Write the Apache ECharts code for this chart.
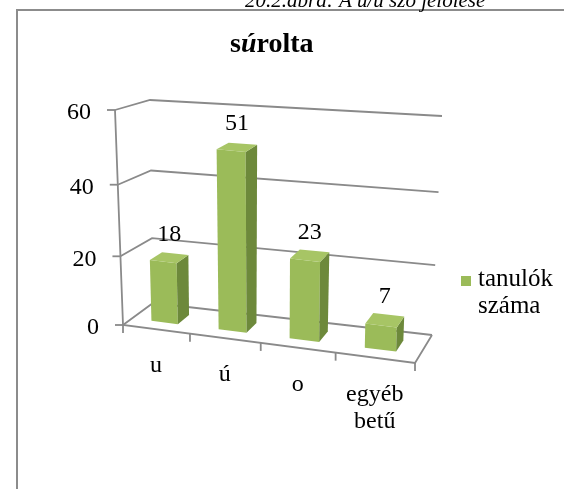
<!DOCTYPE html>
<html>
<head>
<meta charset="utf-8">
<script src="https://cdn.jsdelivr.net/npm/echarts@6.0.0/dist/echarts.min.js"></script>
<style>
  html, body { margin: 0; padding: 0; background: #fff; }
  #chart { width: 564px; height: 489px; }
</style>
</head>
<body>
<div id="chart"></div>
<script>
var categories = ['u', 'ú', 'o', 'egyéb\nbetű'];
var values = [18, 51, 23, 7];
var yTicks = [0, 20, 40, 60];
var seriesName = 'tanulók\nszáma';

// corners of the 3d box (front/back, left/right, bottom/top)
var box = {
    flb: [123, 325], flt: [115, 110],
    blb: [153, 303], blt: [150, 100],
    frb: [415, 363], frt: [421, 143],
    brb: [432, 335], brt: [442, 116]
};
var FONT = '"Liberation Serif", "Times New Roman", serif';
var LINE = '#8a8a8a';

function lerp(a, b, t) {
    return [a[0] + (b[0] - a[0]) * t, a[1] + (b[1] - a[1]) * t];
}
// u: along categories, v: value share, w: depth (0 front, 1 back)
function proj(u, v, w) {
    u = u / (1 + 0.12 * (1 - u));
    v = v / (1 + 0.065 * (1 - v));
    var f = lerp(lerp(box.flb, box.frb, u), lerp(box.flt, box.frt, u), v);
    var b = lerp(lerp(box.blb, box.brb, u), lerp(box.blt, box.brt, u), v);
    return lerp(f, b, w);
}
function toU(pt, cs) { return (pt[0] - cs.x) / cs.width; }
function toV(pt, cs) { return (cs.y + cs.height - pt[1]) / cs.height; }

function line(points) {
    return {
        type: 'polyline',
        shape: { points: points },
        style: { stroke: LINE, lineWidth: 1.8, fill: null }
    };
}

function renderGrid(params, api) {
    var cs = params.coordSys;
    var v = toV(api.coord([0, api.value(1)]), cs);
    var a = proj(0, v, 0);
    var children = [
        line([a, proj(0, v, 1), proj(1, v, 1)]),
        line([[a[0] - 8, a[1]], a]),
        {
            type: 'text',
            style: {
                text: String(api.value(1)), x: a[0] - 24, y: a[1] + 3,
                align: 'right', verticalAlign: 'middle',
                font: '24px ' + FONT, fill: '#000'
            }
        }
    ];
    if (params.dataIndex === 0) {
        children.push(line([proj(0, 1, 0), proj(0, 0, 0), proj(1, 0, 0), proj(1, 0, 1)]));
    }
    return { type: 'group', children: children };
}

function renderCategory(params, api) {
    var cs = params.coordSys;
    var idx = api.value(0);
    var half = api.size([1, 0])[0] / 2 / cs.width;
    var uc = toU(api.coord([idx, 0]), cs);
    var children = [];
    var edges = [uc - half];
    if (idx === categories.length - 1) edges.push(uc + half);
    edges.forEach(function (u) {
        var p = proj(u, 0, 0);
        children.push(line([p, [p[0], p[1] + 8]]));
    });
    var c = proj(uc, 0, 0);
    children.push({
        type: 'text',
        style: {
            text: categories[idx], x: c[0], y: c[1] + 23,
            align: 'center', verticalAlign: 'top', lineHeight: 27,
            font: '24px ' + FONT, fill: '#000'
        }
    });
    return { type: 'group', children: children };
}

function renderBar(params, api) {
    var cs = params.coordSys;
    var idx = api.value(0);
    var uc = toU(api.coord([idx, 0]), cs);
    var v0 = toV(api.coord([idx, 0]), cs);
    var v = toV(api.coord([idx, api.value(1)]), cs);
    var half = api.size([1, 0])[0] * 0.2 / cs.width;
    var u0 = uc - half, u1 = uc + half, w0 = 0.3, w1 = 0.7;
    var top = proj(uc, v, 0.5);
    return {
        type: 'group',
        children: [
            { type: 'polygon', shape: { points: [proj(u0, v0, w0), proj(u1, v0, w0), proj(u1, v, w0), proj(u0, v, w0)] },
              style: { fill: '#9bbb59' } },
            { type: 'polygon', shape: { points: [proj(u1, v0, w0), proj(u1, v0, w1), proj(u1, v, w1), proj(u1, v, w0)] },
              style: { fill: '#6d893b' } },
            { type: 'polygon', shape: { points: [proj(u0, v, w0), proj(u1, v, w0), proj(u1, v, w1), proj(u0, v, w1)] },
              style: { fill: '#a7c565' } },
            { type: 'text',
              style: { text: String(api.value(1)), x: top[0], y: top[1] - 11,
                       align: 'center', verticalAlign: 'bottom',
                       font: '24px ' + FONT, fill: '#000' } }
        ]
    };
}

var myChart = echarts.init(document.getElementById('chart'));

var option = {
    animation: false,
    title: {
        text: '{b|s}{i|ú}{b|rolta}',
        left: 225,
        top: 26,
        textStyle: {
            rich: {
                b: { fontFamily: FONT, fontWeight: 'bold', fontSize: 28, color: '#000' },
                i: { fontFamily: FONT, fontWeight: 'bold', fontStyle: 'italic', fontSize: 28, color: '#000' }
            }
        }
    },
    grid: { left: 123, right: 149, top: 110, bottom: 164 },
    xAxis: { type: 'category', data: categories, show: false },
    yAxis: { type: 'value', min: 0, max: 60, interval: 20, show: false },
    graphic: [
        { type: 'rect', shape: { x: 17, y: 10, width: 600, height: 600 },
          style: { fill: null, stroke: '#8c8c8c', lineWidth: 2 } },
        { type: 'text', left: 245, top: -9,
          style: { text: '20.2.ábra: A ú/u szó jelölése', font: 'italic 21px ' + FONT, fill: '#000' } },
        { type: 'rect', shape: { x: 461, y: 276, width: 10, height: 10 }, style: { fill: '#9bbb59' } },
        { type: 'text', left: 478, top: 266,
          style: { text: seriesName, font: '25px ' + FONT, lineHeight: 27, fill: '#000' } }
    ],
    series: [
        { type: 'custom', name: 'grid', renderItem: renderGrid, clip: false, silent: true,
          data: yTicks.map(function (t) { return [0, t]; }) },
        { type: 'custom', name: 'cat', renderItem: renderCategory, clip: false, silent: true,
          data: categories.map(function (c, i) { return [i, 0]; }) },
        { type: 'custom', name: seriesName, renderItem: renderBar, clip: false,
          data: values.map(function (v, i) { return [i, v]; }) }
    ]
};

myChart.setOption(option);
</script>
</body>
</html>
